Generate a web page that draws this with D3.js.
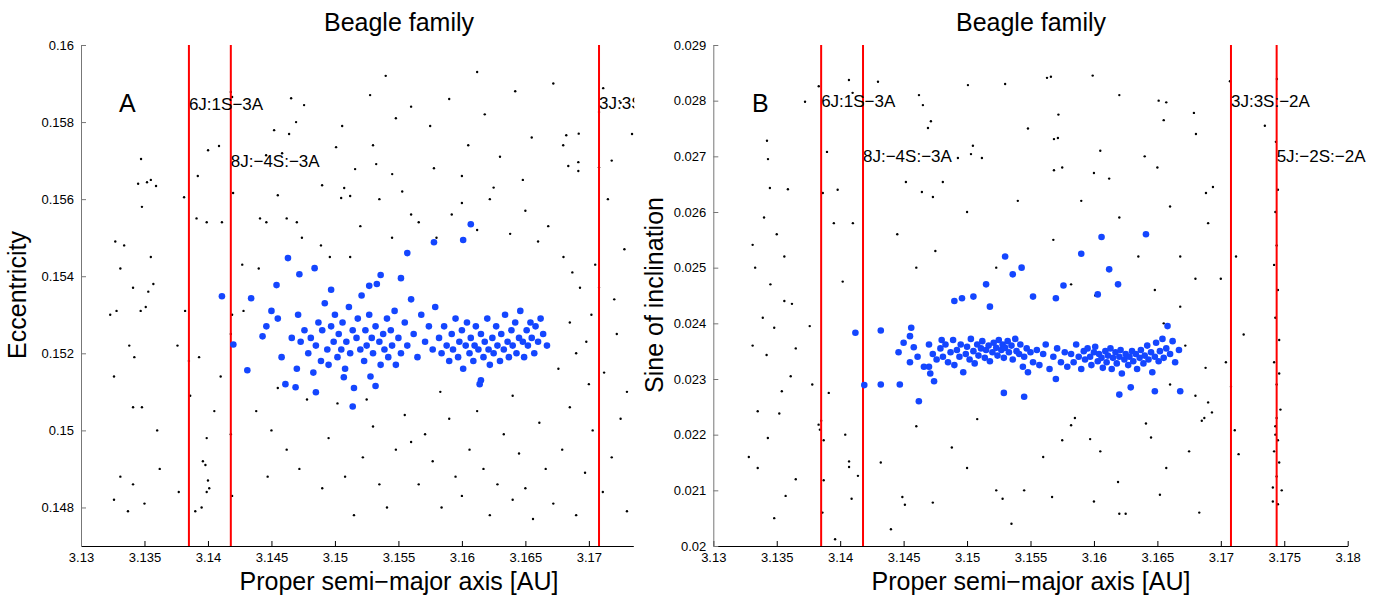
<!DOCTYPE html>
<html>
<head>
<meta charset="utf-8">
<script src="https://cdn.jsdelivr.net/npm/d3@7"></script>
<style>
  body { margin: 0; background: #fff; }
  text { font-family: "Liberation Sans", Arial, sans-serif; }
</style>
</head>
<body>
<script>
// Beagle family: proper elements, two panels (eccentricity / sine of inclination)

const width = 1379, height = 596;

// tick values
const aTicksLeft = [3.13, 3.135, 3.14, 3.145, 3.15, 3.155, 3.16, 3.165, 3.17];
const aTicksRight = [3.13, 3.135, 3.14, 3.145, 3.15, 3.155, 3.16, 3.165, 3.17, 3.175, 3.18];
const eTicks = [0.148, 0.15, 0.152, 0.154, 0.156, 0.158, 0.16];
const sinTicks = [0.02, 0.021, 0.022, 0.023, 0.024, 0.025, 0.026, 0.027, 0.028, 0.029];

// mean motion resonances
const resNamesA = ["6J:1S\u22123A", "8J:\u22124S:\u22123A", "3J:3S:\u22122A"];
const resAxisA = [3.1385, 3.1418, 3.1708];
const resLabelE = [0.15831, 0.15683, 0.15834];
const resNamesB = ["6J:1S\u22123A", "8J:\u22124S:\u22123A", "3J:3S:\u22122A", "5J:\u22122S:\u22122A"];
const resAxisB = [3.1385, 3.1418, 3.1708, 3.1744];
const resLabelSin = [0.02788, 0.0269, 0.02789, 0.02689];

// background asteroids, panel A: [a, e]
const bgEcc = [
  [3.1418,0.15878],[3.1419,0.15865],[3.14655,0.15862],[3.14757,0.15844],[3.14694,0.158],[3.14521,0.15779],
  [3.14639,0.15769],[3.15057,0.1579],[3.15277,0.1587],[3.14001,0.15727],[3.14087,0.15738],[3.13473,0.15704],
  [3.1352,0.15644],[3.13591,0.15634],[3.13812,0.15605],[3.14198,0.15616],[3.14458,0.15714],[3.14584,0.15719],
  [3.15009,0.15735],[3.15159,0.15678],[3.15325,0.15691],[3.15451,0.15665],[3.14899,0.15636],[3.15073,0.15629],
  [3.15049,0.15603],[3.1512,0.15608],[3.17113,0.15888],[3.16822,0.15766],[3.16798,0.1574],[3.1734,0.15769],
  [3.16838,0.15686],[3.16917,0.15696],[3.16917,0.15673],[3.1708,0.15826],[3.1708,0.15683],
  [3.1327,0.1549],[3.1334,0.1548],[3.1348,0.1558],[3.1331,0.1542],[3.1355,0.1545],[3.1341,0.1537],
  [3.1353,0.1536],[3.1357,0.1538],[3.1328,0.1531],[3.1347,0.1531],[3.1351,0.1532],[3.1323,0.153],
  [3.1338,0.1522],[3.1326,0.1514],[3.1342,0.1519],[3.1341,0.1506],[3.1348,0.1506],[3.136,0.15],
  [3.1331,0.1488],[3.1341,0.1486],[3.135,0.1481],[3.1337,0.1479],[3.1326,0.1482],[3.1362,0.149],
  [3.1345,0.1564],[3.1355,0.1565],
  [3.1377,0.1484],[3.139,0.1479],[3.1395,0.148],[3.1399,0.1484],[3.14,0.1487],[3.1401,0.1485],
  [3.1398,0.1491],[3.1399,0.1498],[3.1396,0.1492],[3.1382,0.1531],[3.1385,0.1518],[3.1393,0.1519],
  [3.1376,0.1522],[3.1391,0.1555],[3.1399,0.1554],[3.1411,0.1554],[3.1419,0.153],[3.1418,0.1525],
  [3.1418,0.1499],[3.1419,0.1483],[3.1428,0.1531],[3.1427,0.1543],[3.1386,0.1509],[3.1405,0.1505],
  [3.141,0.1514],[3.1392,0.1566],
  [3.1441,0.1555],[3.1446,0.1554],[3.1462,0.1555],[3.1474,0.155],[3.147,0.1554],[3.1489,0.1548],
  [3.1496,0.1545],[3.1455,0.1561],[3.152,0.1553],[3.1535,0.156],[3.1545,0.155],[3.1553,0.1562],
  [3.156,0.1556],[3.1566,0.1554],[3.158,0.155],[3.1592,0.1556],[3.16,0.1559],[3.1612,0.1552],
  [3.1622,0.156],[3.1638,0.1551],[3.165,0.1557],[3.166,0.1549],[3.1668,0.1553],[3.168,0.1545],
  [3.1687,0.1541],[3.1693,0.1537],[3.1702,0.153],[3.1705,0.1543],[3.172,0.1534],[3.1728,0.1547],
  [3.1715,0.156],[3.1512,0.1545],[3.144,0.1542],
  [3.156,0.1584],[3.1575,0.1579],[3.159,0.1586],[3.1605,0.1574],[3.1618,0.1582],[3.163,0.1571],
  [3.1642,0.1588],[3.1655,0.1576],[3.1648,0.1565],[3.1625,0.1563],[3.16,0.1566],[3.1578,0.1568],
  [3.1548,0.1581],[3.153,0.1574],[3.1692,0.1577],[3.1718,0.157],[3.1725,0.1585],[3.1672,0.159],
  [3.154,0.1592],[3.1612,0.1593],
  [3.169,0.152],[3.17,0.1512],[3.1712,0.1515],[3.1722,0.1525],[3.1698,0.1523],[3.1685,0.1528],
  [3.1708,0.1537],[3.173,0.151],[3.1676,0.1516],
  [3.1438,0.1505],[3.145,0.15],[3.1462,0.1495],[3.1447,0.1488],[3.1478,0.1508],[3.1472,0.149],
  [3.149,0.1485],[3.1495,0.1498],[3.1502,0.1507],[3.1508,0.1488],[3.1515,0.1478],[3.1522,0.1493],
  [3.153,0.1501],[3.1535,0.1486],[3.1541,0.148],[3.1548,0.1495],[3.1555,0.1504],[3.156,0.1497],
  [3.1566,0.1486],[3.1571,0.1499],[3.1577,0.1492],[3.1584,0.148],[3.159,0.1503],[3.1595,0.1488],
  [3.16,0.1483],[3.1606,0.1495],[3.1612,0.1505],[3.1617,0.149],[3.1622,0.1478],[3.1628,0.1486],
  [3.1633,0.1499],[3.164,0.1482],[3.1645,0.1494],[3.165,0.1485],[3.1656,0.1477],[3.1661,0.1502],
  [3.1666,0.149],[3.1672,0.1481],[3.1679,0.1495],[3.1685,0.1506],[3.169,0.1478],[3.1697,0.1489],
  [3.1703,0.15],[3.1711,0.1484],[3.1718,0.1493],[3.1725,0.1503],[3.173,0.1479],[3.1455,0.1511],
  [3.1525,0.1508],[3.1583,0.151],[3.164,0.1509]
];

// family members, panel A: [a, e]
const famEcc = [
  [3.1411,0.15348],[3.142,0.15223],[3.1431,0.15156],[3.1434,0.15343],[3.1443,0.15244],[3.1454,0.15377],
  [3.1463,0.15447],[3.1472,0.15405],[3.1484,0.15421],[3.1469,0.15112],[3.1485,0.15099],[3.1507,0.15138],
  [3.1514,0.15062],[3.1557,0.1546],[3.1578,0.15488],[3.1601,0.15494],[3.1607,0.15535],[3.1536,0.15403],
  [3.1552,0.15395],[3.1527,0.15375],[3.1497,0.15365],[3.1615,0.1513],[3.1532,0.15115],
  [3.1446,0.1527],[3.145,0.1531],[3.1455,0.1529],[3.1458,0.1519],[3.1461,0.1512],[3.1466,0.1524],
  [3.147,0.1516],[3.1473,0.1523],[3.1476,0.1526],[3.1471,0.153],
  [3.1479,0.152],[3.1481,0.1524],[3.1483,0.1515],[3.1485,0.1522],[3.1487,0.1528],[3.1489,0.1518],
  [3.149,0.1526],[3.1492,0.1533],[3.1494,0.1521],[3.1495,0.1517],[3.1497,0.1527],[3.1499,0.1523],
  [3.15,0.153],[3.1502,0.1519],[3.1503,0.1525],[3.1505,0.1521],[3.1506,0.1528],[3.1508,0.1516],
  [3.1509,0.1523],[3.1511,0.1532],[3.1512,0.152],[3.1514,0.1526],[3.1515,0.1511],[3.1517,0.1524],
  [3.1518,0.1529],[3.152,0.1521],[3.1521,0.1535],[3.1523,0.1518],[3.1524,0.1526],[3.1525,0.1522],
  [3.1527,0.153],[3.1528,0.1514],[3.1529,0.1524],[3.153,0.152],[3.1532,0.1527],[3.1533,0.1538],
  [3.1535,0.1523],[3.1536,0.1517],[3.1538,0.1525],[3.1539,0.1521],[3.1541,0.1529],[3.1542,0.1519],
  [3.1544,0.1526],[3.1545,0.1522],[3.1547,0.1531],[3.1548,0.1517],[3.155,0.1524],[3.1552,0.152],
  [3.1555,0.1528],[3.1557,0.1522],[3.156,0.1534],[3.1562,0.1525],[3.1565,0.1519],[3.1568,0.153],
  [3.1571,0.1523],[3.1574,0.1527],[3.1577,0.1521],[3.1579,0.1532],
  [3.1582,0.1524],[3.1584,0.152],[3.1586,0.1527],[3.1588,0.1522],[3.159,0.1518],[3.1592,0.1525],
  [3.1593,0.1521],[3.1595,0.1529],[3.1597,0.1519],[3.1598,0.1523],[3.16,0.1526],[3.1601,0.1516],
  [3.1603,0.1522],[3.1604,0.1528],[3.1606,0.152],[3.1607,0.1524],[3.1609,0.1518],[3.161,0.1522],
  [3.1611,0.1527],[3.1613,0.1521],[3.1614,0.1512],[3.1615,0.1525],[3.1617,0.1519],[3.1618,0.1523],
  [3.162,0.1529],[3.1621,0.1521],[3.1622,0.1517],[3.1624,0.1524],[3.1625,0.152],[3.1627,0.1527],
  [3.1628,0.1522],[3.163,0.1518],[3.1631,0.1525],[3.1633,0.1521],[3.1634,0.153],[3.1636,0.1523],
  [3.1637,0.1519],[3.1639,0.1526],[3.164,0.1522],[3.1642,0.1528],[3.1643,0.152],[3.1645,0.1524],
  [3.1646,0.1531],[3.1648,0.1523],[3.1649,0.1519],[3.1651,0.1526],[3.1652,0.1522],[3.1654,0.1528],
  [3.1655,0.1524],[3.1657,0.152],[3.1658,0.1527],[3.166,0.1523],[3.1662,0.1529],[3.1664,0.1525],
  [3.1667,0.1522]
];

// background asteroids, panel B: [a, sin i]
const bgInc = [
  [3.13831,0.02826],[3.14069,0.02837],[3.14298,0.02834],[3.14098,0.02814],[3.13723,0.02798],[3.14621,0.0281],
  [3.14652,0.02792],[3.15007,0.02828],[3.1563,0.02841],[3.15661,0.02843],[3.14715,0.02763],[3.14692,0.02751],
  [3.13423,0.02728],[3.13431,0.02695],[3.13896,0.02708],[3.15046,0.02719],[3.15031,0.02704],[3.15117,0.02697],
  [3.14928,0.02697],[3.15685,0.02731],[3.15716,0.02733],[3.15685,0.02675],[3.13446,0.02643],[3.13588,0.02641],
  [3.14518,0.02654],[3.14809,0.02654],[3.14644,0.02636],[3.14731,0.02627],[3.13863,0.02634],
  [3.16788,0.02778],[3.16804,0.0274],[3.17347,0.02755],[3.17434,0.02726],[3.16938,0.02645],[3.16883,0.02634],
  [3.17072,0.02835],[3.17442,0.02839],
  [3.1331,0.02541],[3.1333,0.025],[3.1345,0.0247],[3.1356,0.0244],[3.1339,0.0241],[3.1348,0.02392],
  [3.1331,0.0236],[3.1342,0.02343],[3.1361,0.02305],[3.1354,0.02278],[3.1335,0.02242],[3.1343,0.02194],
  [3.1352,0.02238],[3.1335,0.0214],[3.1357,0.0209],[3.1348,0.0205],[3.1365,0.0212],[3.1328,0.0216],
  [3.1362,0.02435],[3.135,0.0256],[3.1365,0.02355],[3.134,0.0259],[3.1356,0.0252],
  [3.1383,0.02218],[3.1385,0.02225],[3.1384,0.02209],[3.1387,0.0219],[3.1387,0.02118],[3.1386,0.0206],
  [3.1378,0.0229],[3.1391,0.02275],[3.1404,0.022],[3.1407,0.02152],[3.1407,0.02142],[3.1414,0.02126],
  [3.1409,0.02085],[3.1396,0.02012],[3.1395,0.0258],[3.1402,0.02475],[3.1376,0.02395],[3.1398,0.0264],
  [3.141,0.0258],
  [3.1449,0.02088],[3.1451,0.02074],[3.1473,0.02078],[3.1488,0.02177],[3.1508,0.02228],[3.1523,0.021],
  [3.1528,0.02085],[3.1545,0.021],[3.1567,0.02088],[3.1575,0.0219],[3.1582,0.02217],[3.1585,0.0223],
  [3.1597,0.02192],[3.1605,0.0217],[3.1619,0.02115],[3.162,0.02058],[3.1625,0.02058],[3.1641,0.0222],
  [3.1645,0.02195],[3.1657,0.0214],[3.1683,0.0206],[3.1685,0.02225],[3.1687,0.0223],[3.169,0.02258],
  [3.1432,0.0215],[3.146,0.02215],[3.15,0.0214],[3.1535,0.0204],[3.156,0.0216],[3.16,0.0208],
  [3.1652,0.02092],[3.1675,0.0217],[3.144,0.0203],
  [3.153,0.0283],[3.1548,0.0275],[3.1575,0.0268],[3.159,0.0262],[3.1605,0.0271],[3.1612,0.0266],
  [3.162,0.0259],[3.1635,0.0252],[3.1648,0.0246],[3.1655,0.024],[3.1668,0.0243],[3.1672,0.0236],
  [3.168,0.0227],[3.1688,0.0232],[3.1693,0.0224],[3.166,0.0229],[3.1599,0.02845],[3.1651,0.028],
  [3.1657,0.02797],[3.1655,0.02765],[3.162,0.0281],[3.1572,0.02775],[3.164,0.027],[3.16,0.0267],
  [3.165,0.0268],[3.166,0.0261],[3.1668,0.0252],[3.168,0.0248],[3.1475,0.0253],[3.1523,0.025],
  [3.1568,0.0255],[3.1582,0.0247],[3.1601,0.0245],[3.15,0.026],[3.1445,0.0256],[3.146,0.025],
  [3.154,0.0262],[3.169,0.0258],[3.17,0.0248],
  [3.1704,0.0233],[3.1708,0.02286],[3.1711,0.02208],[3.1714,0.02165],[3.1718,0.0238],[3.1712,0.0252],
  [3.1744,0.0254],[3.1742,0.02505],[3.1745,0.0246],[3.1743,0.0241],[3.1746,0.0237],[3.1742,0.0233],
  [3.1744,0.0229],[3.1747,0.02245],[3.1743,0.02215],[3.1745,0.0219],[3.1742,0.0217],[3.1746,0.0215],
  [3.1744,0.02125],[3.1741,0.02105],[3.1745,0.02075],[3.1743,0.022],[3.1744,0.0223],[3.1748,0.021],
  [3.1741,0.0208],[3.1746,0.0231],[3.1743,0.026],[3.1745,0.0264]
];

// family members, panel B: [a, sin i]
const famInc = [
  [3.1412,0.02383],[3.1419,0.02289],[3.1432,0.0229],[3.1432,0.02387],[3.1447,0.0229],[3.1455,0.02377],
  [3.1456,0.02392],[3.1462,0.0226],[3.147,0.02322],[3.1474,0.02296],[3.148,0.0237],[3.149,0.0244],
  [3.1496,0.02445],[3.1505,0.02448],[3.1515,0.0247],[3.1518,0.0243],[3.153,0.0252],[3.1536,0.02488],
  [3.1543,0.025],[3.1552,0.02448],[3.157,0.02445],[3.1576,0.02468],[3.159,0.02525],[3.1603,0.02452],
  [3.1606,0.02555],[3.1612,0.02497],[3.1619,0.0247],[3.1641,0.0256],[3.1529,0.02275],[3.1545,0.02268],
  [3.157,0.023],[3.162,0.02272],[3.1629,0.02285],[3.1648,0.02278],[3.1668,0.02278],
  [3.1446,0.02348],[3.145,0.02365],[3.1455,0.0233],[3.1458,0.02357],[3.1461,0.0234],[3.1466,0.02322],
  [3.147,0.02362],[3.1473,0.02345],[3.1476,0.02335],[3.1471,0.0231],
  [3.1479,0.02355],[3.1481,0.0234],[3.1483,0.02362],[3.1485,0.0233],[3.1487,0.02348],[3.1489,0.0237],
  [3.149,0.02325],[3.1492,0.02352],[3.1494,0.0234],[3.1495,0.02362],[3.1497,0.02312],[3.1499,0.02345],
  [3.15,0.02358],[3.1502,0.02335],[3.1503,0.02372],[3.1505,0.0235],[3.1506,0.02328],[3.1508,0.02362],
  [3.1509,0.02342],[3.1511,0.02355],[3.1512,0.02368],[3.1514,0.02338],[3.1515,0.02352],[3.1517,0.0236],
  [3.1518,0.02332],[3.152,0.02348],[3.1521,0.02365],[3.1523,0.02356],[3.1524,0.02342],[3.1525,0.0237],
  [3.1527,0.02352],[3.1528,0.02362],[3.1529,0.02338],[3.153,0.02356],[3.1532,0.02368],[3.1533,0.02348],
  [3.1535,0.0236],[3.1536,0.02335],[3.1538,0.02372],[3.1539,0.0235],[3.1541,0.02345],[3.1542,0.02362],
  [3.1544,0.02322],[3.1545,0.0234],[3.1547,0.02355],[3.1548,0.02312],[3.155,0.02348],[3.1552,0.0233],
  [3.1555,0.02352],[3.1557,0.02325],[3.156,0.02345],[3.1562,0.02362],[3.1565,0.02318],[3.1568,0.0234],
  [3.1571,0.02355],[3.1574,0.0233],[3.1577,0.02348],[3.1579,0.02322],
  [3.1582,0.02345],[3.1584,0.0233],[3.1586,0.02362],[3.1588,0.0234],[3.159,0.02318],[3.1592,0.0235],
  [3.1593,0.02335],[3.1595,0.02355],[3.1597,0.0234],[3.1598,0.02325],[3.16,0.02348],[3.1601,0.02358],
  [3.1603,0.02332],[3.1604,0.02345],[3.1606,0.02338],[3.1607,0.0232],[3.1609,0.0235],[3.161,0.0233],
  [3.1611,0.02342],[3.1613,0.02355],[3.1614,0.02318],[3.1615,0.02338],[3.1617,0.02348],[3.1618,0.02328],
  [3.162,0.0234],[3.1621,0.02352],[3.1622,0.0231],[3.1624,0.02335],[3.1625,0.02345],[3.1627,0.02325],
  [3.1628,0.0234],[3.163,0.0235],[3.1631,0.02332],[3.1633,0.02345],[3.1634,0.02318],[3.1636,0.02338],
  [3.1637,0.02352],[3.1639,0.02328],[3.164,0.02342],[3.1642,0.0236],[3.1643,0.02335],[3.1645,0.02348],
  [3.1646,0.02312],[3.1648,0.0234],[3.1649,0.02365],[3.1651,0.02332],[3.1652,0.0235],[3.1654,0.02372],
  [3.1655,0.02338],[3.1657,0.02355],[3.1658,0.02395],[3.166,0.02345],[3.1662,0.02368],[3.1664,0.0233],
  [3.1667,0.02352]
];

const svg = d3.select("body").append("svg")
  .attr("width", width)
  .attr("height", height)
  .style("display", "block");

const tickFmt = d3.format("~g");

function drawPanel(p) {
  const x = d3.scaleLinear().domain(p.xDomain).range(p.xRange);
  const y = d3.scaleLinear().domain(p.yDomain).range([546, 45]);
  const g = svg.append("g");

  const clipId = "clip-" + p.letter;
  svg.append("clipPath").attr("id", clipId)
    .append("rect")
    .attr("x", p.xRange[0]).attr("y", 45)
    .attr("width", p.xRange[1] - p.xRange[0] + 1).attr("height", 501);

  const plot = g.append("g").attr("clip-path", "url(#" + clipId + ")");

  // background asteroids
  plot.selectAll(".bg")
    .data(p.bg)
    .join("circle")
    .attr("class", "bg")
    .attr("cx", d => x(d[0]))
    .attr("cy", d => y(d[1]))
    .attr("r", 1.2)
    .style("fill", "#000");

  // resonance lines
  plot.selectAll(".res")
    .data(p.resA)
    .join("line")
    .attr("class", "res")
    .attr("x1", d => x(d)).attr("x2", d => x(d))
    .attr("y1", 45).attr("y2", 546)
    .style("stroke", "#ff0000")
    .style("stroke-width", 2);

  // family members
  plot.selectAll(".fam")
    .data(p.fam)
    .join("circle")
    .attr("class", "fam")
    .attr("cx", d => x(d[0]))
    .attr("cy", d => y(d[1]))
    .attr("r", 3.3)
    .style("fill", "#1446ff");

  // resonance labels (left panel's last one is cut by the axes edge)
  const labelLayer = p.clipLabels ? plot : g;
  labelLayer.selectAll(".reslabel")
    .data(p.resNames)
    .join("text")
    .attr("class", "reslabel")
    .attr("x", (d, i) => x(p.resA[i]))
    .attr("y", (d, i) => y(p.resY[i]))
    .style("font-size", "17px")
    .text(d => d);

  // x axis
  const xAxis = g.append("g")
    .attr("transform", "translate(0,546)")
    .call(d3.axisBottom(x).tickValues(p.xTicks).tickFormat(tickFmt)
      .tickSizeInner(-5).tickSizeOuter(0).tickPadding(7));
  xAxis.select(".domain").style("stroke", "#000");
  xAxis.selectAll(".tick line").style("stroke", "#000");
  xAxis.selectAll("text").style("font-size", "13px").style("font-family", "Liberation Sans, Arial, sans-serif").style("fill", "#000");

  // y axis
  const yAxis = g.append("g")
    .attr("transform", "translate(" + p.xRange[0] + ",0)")
    .call(d3.axisLeft(y).tickValues(p.yTicks).tickFormat(tickFmt)
      .tickSizeInner(-5).tickSizeOuter(0).tickPadding(7));
  yAxis.select(".domain").style("stroke", "#777");
  yAxis.selectAll(".tick line").style("stroke", "#777");
  yAxis.selectAll("text").style("font-size", "13px").style("font-family", "Liberation Sans, Arial, sans-serif").style("fill", "#000");

  const cx = p.labelCenter;
  g.append("text")
    .attr("x", cx).attr("y", 31)
    .attr("text-anchor", "middle")
    .style("font-size", "25px")
    .text("Beagle family");

  g.append("text")
    .attr("x", cx).attr("y", 590)
    .attr("text-anchor", "middle")
    .style("font-size", "25px")
    .text("Proper semi\u2212major axis [AU]");

  g.append("text")
    .attr("transform", "translate(" + p.yLabelX + ",295) rotate(-90)")
    .attr("text-anchor", "middle")
    .style("font-size", "25px")
    .text(p.yLabel);

  g.append("text")
    .attr("x", p.letterX).attr("y", 112)
    .style("font-size", "25px")
    .text(p.letter);
}

drawPanel({
  letter: "A", letterX: 119,
  xDomain: [3.13, 3.1735], xRange: [81, 633.3],
  yDomain: [0.147, 0.16],
  xTicks: aTicksLeft, yTicks: eTicks,
  bg: bgEcc, fam: famEcc,
  resA: resAxisA, resNames: resNamesA, resY: resLabelE, clipLabels: true,
  labelCenter: 399, yLabelX: 26, yLabel: "Eccentricity"
});

drawPanel({
  letter: "B", letterX: 752,
  xDomain: [3.13, 3.18], xRange: [713.3, 1347.7],
  yDomain: [0.02, 0.029],
  xTicks: aTicksRight, yTicks: sinTicks,
  bg: bgInc, fam: famInc,
  resA: resAxisB, resNames: resNamesB, resY: resLabelSin, clipLabels: false,
  labelCenter: 1031, yLabelX: 663, yLabel: "Sine of inclination"
});
</script>
</body>
</html>
